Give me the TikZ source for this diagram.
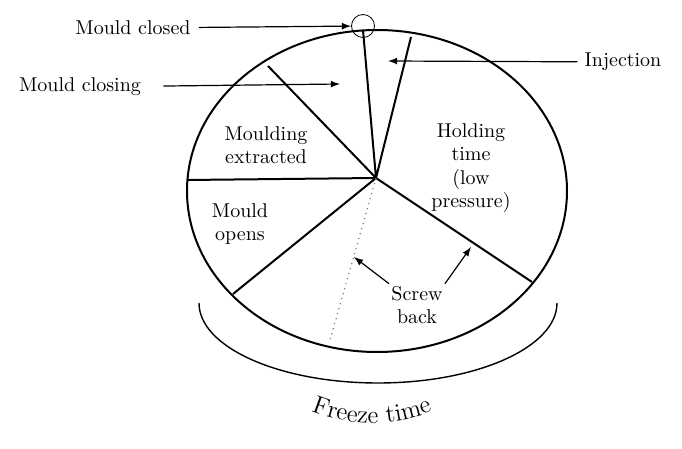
\documentclass[tikz,border=0pt]{standalone}
\usetikzlibrary{arrows,decorations.text}

\newcommand{\freezefont}{\fontsize{12.5}{15}\selectfont}

\begin{document}
\begin{tikzpicture}[x=0.5pt,y=-0.5pt,>=latex,
    spoke/.style={line width=1pt},
    lbl/.style={font=\fontsize{10}{11.75}\selectfont,align=center,inner sep=1pt}]
    \useasboundingbox (0,0) rectangle (682,449);
    % cycle and its sectors
    \draw[spoke] (377,191) ellipse [x radius=190, y radius=161];
    \coordinate (hub) at (376,178);
    \coordinate (closing) at (268,66);
    \coordinate (closed) at (363,30);
    \coordinate (inj) at (411,37);
    \coordinate (west) at (187,180);
    \coordinate (sw) at (233,294);
    \coordinate (se) at (532,282);
    \coordinate (dot) at (330,340);
    \draw[spoke] (hub) -- (closing) (hub) -- (closed) (hub) -- (inj)
                 (hub) -- (west) (hub) -- (sw) (hub) -- (se);
    \draw[black!50,dotted,semithick] (hub) -- (dot);
    \node[circle,draw,thin,minimum size=11.5pt,inner sep=0pt] (mark) at (363,26) {};
    % labels
    \node[lbl] (closedtxt) at (133,28) {Mould closed};
    \node[lbl] (closingtxt) at (80,87) {Mould closing};
    \node[lbl] (injtxt) at (623,62) {Injection};
    \node[lbl] (extracted) at (266,145) {Moulding\\extracted};
    \node[lbl] (holding) at (471,168) {Holding\\time\\(low\\pressure)};
    \node[lbl] (opens) at (240,224) {Mould\\opens};
    \node[lbl] (screw) at (417,305) {Screw\\back};
    \coordinate (closingtip) at (340,84);
    \coordinate (injtip) at (388,61);
    \coordinate (screwl) at (354,257);
    \coordinate (screwr) at (471,247);
    \path[->,semithick]
    (closedtxt) edge [shorten <=3pt] (mark)
    (closingtxt) edge [shorten <=10pt] (closingtip)
    (injtxt) edge [shorten <=2.5pt] (injtip)
    (screw.north west) edge (screwl)
    (screw.north east) edge (screwr);
    % freeze time bracket
    \coordinate (fl) at (199,303);
    \draw[line width=0.7pt] (fl) arc [start angle=180, end angle=0, x radius=179, y radius=80];
    \coordinate (fz) at (292,401.6);
    \path[decorate,decoration={text along path,text align=center,
        text={|\freezefont|Freeze time}}]
    (fz) arc [start angle=120, end angle=60, radius=160];
\end{tikzpicture}
\end{document}
